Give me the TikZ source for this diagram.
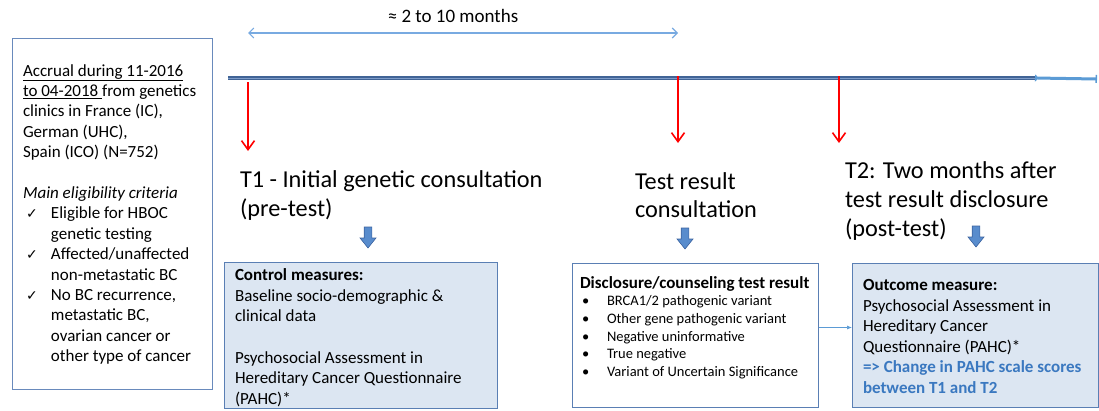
\documentclass[tikz,border=0pt]{standalone}
\usepackage{fontspec}
\setmainfont{Carlito}
\newfontfamily\symfont{DejaVu Sans}
\usetikzlibrary{arrows.meta}
\definecolor{boxline}{RGB}{90,127,180}
\definecolor{leftline}{RGB}{105,138,188}
\definecolor{boxfill}{RGB}{220,230,242}
\definecolor{tldark}{RGB}{65,100,150}
\definecolor{tllight}{RGB}{125,155,200}
\definecolor{tltail}{RGB}{91,155,213}
\definecolor{toparrow}{RGB}{120,170,225}
\definecolor{blkfill}{RGB}{88,140,205}
\definecolor{blkline}{RGB}{60,100,160}
\definecolor{bluetext}{RGB}{58,120,192}
\definecolor{redarrow}{RGB}{255,0,0}
\newcommand\ckm{\makebox[28pt][l]{\hspace{3pt}{\symfont\fontsize{14}{14}\selectfont ✓}}}
\newcommand\indt{\hspace*{28pt}}
\newcommand\bul{\makebox[25pt][l]{•}}
\begin{document}
\begin{tikzpicture}[x=1pt,y=-1pt,
  txt/.style={anchor=base west, inner sep=0pt, outer sep=0pt, align=left, font=\fontsize{17}{20.6}\selectfont},
  head/.style={anchor=base west, inner sep=0pt, outer sep=0pt, align=left, font=\fontsize{24.3}{29.2}\selectfont},
  framebox/.style={draw=boxline, line width=1pt, anchor=north west, inner sep=0pt},
  redarr/.style={draw=redarrow, line width=2.6pt, -{Straight Barb[length=9pt,width=13pt,line width=1.6pt]}},
  conn/.style={draw=tltail, line width=0.7pt, -{Latex[length=5pt,width=4pt]}},
  blockarrow/.pic={\draw[fill=blkfill, draw=blkline, line width=0.6pt]
     (-3.8,0) -- (3.8,0) -- (3.8,11) -- (8,11) -- (0,21) -- (-8,11) -- (-3.8,11) -- cycle;}
]
\useasboundingbox (0,0) rectangle (1099,410);

% left box (multi-line nodes: base = baseline of last line)
\node[framebox, draw=leftline, minimum width=200pt, minimum height=351pt] (accbox) at (12,38) {};
\node[txt, font=\fontsize{17}{20.4}\selectfont] (acctxt) at (23,361.6)
 {\underline{Accrual during 11-2016}\\
  \underline{to 04-2018 }from genetics\\
  clinics in France (IC),\\
  German (UHC),\\
  Spain (ICO) (N=752)\\[20.4pt]
  \textit{Main eligibility criteria}\\
  \ckm Eligible for HBOC\\
  \indt genetic testing\\
  \ckm Affected/unaffected\\
  \indt non-metastatic BC\\
  \ckm No BC recurrence,\\
  \indt metastatic BC,\\
  \indt ovarian cancer or\\
  \indt other type of cancer};

% top span arrow
\coordinate (ta0) at (248,33);
\coordinate (ta1) at (678,33);
\draw[draw=toparrow, line width=1.1pt, {Straight Barb[length=5pt,width=10pt]}-{Straight Barb[length=5pt,width=10pt]}] (ta0) -- (ta1);
\node[anchor=base, inner sep=0pt, font=\fontsize{19}{23}\selectfont] (span) at (453,22) {≈ 2 to 10 months};

% timeline
\coordinate (tl0) at (228,78);
\coordinate (tl1) at (1035,78);
\coordinate (tl2) at (1097,79);
\draw[draw=tldark, line width=3.6pt] (tl0) -- (tl1);
\draw[draw=tllight, line width=0.7pt] (tl0) -- (tl1);
\draw[draw=tltail, line width=3pt, {Triangle[reversed,length=4pt,width=7pt]}-{Bar[width=8pt,line width=1.5pt]}] (tl1) -- (tl2);

% red arrows
\coordinate (r1a) at (248,82);  \coordinate (r1b) at (248,151);
\coordinate (r2a) at (678,76);  \coordinate (r2b) at (678,143);
\coordinate (r3a) at (839,76);  \coordinate (r3b) at (839,143);
\draw[redarr] (r1a) -- (r1b);
\draw[redarr] (r2a) -- (r2b);
\draw[redarr] (r3a) -- (r3b);

% headings
\node[head] (h1) at (240,216.2) {T1 - Initial genetic consultation\\(pre-test)};
\node[head, font=\fontsize{24.3}{28.5}\selectfont] (h2) at (635,217.5) {Test result\\consultation};
\node[head] (h3) at (845,236.4) {T2: Two months after\\test result disclosure\\(post-test)};

% block arrows
\pic at (368,227) {blockarrow};
\pic at (685,228) {blockarrow};
\pic at (976,226) {blockarrow};

% control box
\node[framebox, fill=boxfill, minimum width=273pt, minimum height=146pt] (ctrl) at (224,262) {};
\node[txt] (ctrltxt) at (235,404.3)
 {\textbf{Control measures:}\\
  Baseline socio-demographic \&\\
  clinical data\\[20.6pt]
  Psychosocial Assessment in\\
  Hereditary Cancer Questionnaire\\
  (PAHC)*};

% disclosure box
\node[framebox, fill=white, minimum width=246pt, minimum height=144pt] (disc) at (572,263) {};
\node[txt] (disctitle) at (580,288) {\textbf{Disclosure/counseling test result}};
\node[txt, font=\fontsize{14.5}{17.7}\selectfont] (disclist) at (582,376.5)
 {\bul BRCA1/2 pathogenic variant\\
  \bul Other gene pathogenic variant\\
  \bul Negative uninformative\\
  \bul True negative\\
  \bul Variant of Uncertain Significance};

% outcome box
\node[framebox, fill=boxfill, minimum width=246pt, minimum height=144pt] (outc) at (852,263) {};
\node[txt, font=\fontsize{17}{20.5}\selectfont] (outctxt) at (863,393.2)
 {\textbf{Outcome measure:}\\
  Psychosocial Assessment in\\
  Hereditary Cancer\\
  Questionnaire (PAHC)*\\
  \textcolor{bluetext}{\textbf{=> Change in PAHC scale scores}}\\
  \textcolor{bluetext}{\textbf{between T1 and T2}}};

% connector
\draw[conn] ([yshift=8pt]disc.east) -- ([yshift=8pt]outc.west);
\end{tikzpicture}
\end{document}
